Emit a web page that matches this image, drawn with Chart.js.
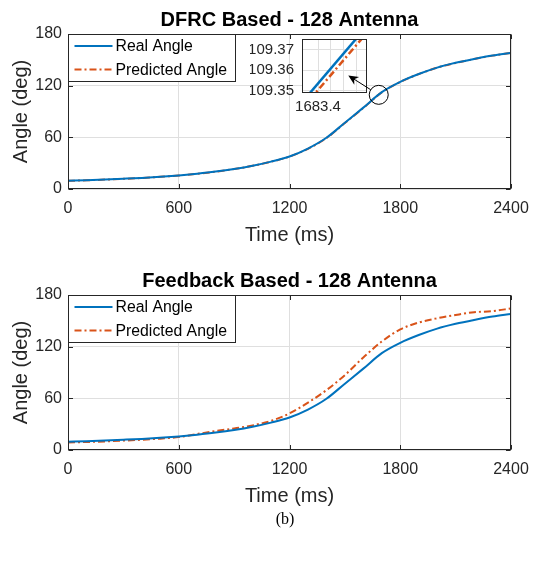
<!DOCTYPE html>
<html>
<head>
<meta charset="utf-8">
<script src="https://cdn.jsdelivr.net/npm/chart.js@4.4.1/dist/chart.umd.min.js"></script>
<style>
  body { margin: 0; background: #fff; }
  .wrap { position: relative; width: 533px; height: 563px; overflow: hidden; }
  canvas { position: absolute; left: 0; }
  #dfrcChart { top: 0; }
  #feedbackChart { top: 261px; }
  #zoomChart { left: 250px; top: 33px; z-index: 2; }
  .caption { position: absolute; left: 0; width: 570px; top: 510px; text-align: center;
             font: 16px/18px "Liberation Serif", "Times New Roman", serif; color: #000; }
</style>
</head>
<body>
<div class="wrap">
  <canvas id="dfrcChart" width="533" height="260"></canvas>
  <canvas id="feedbackChart" width="533" height="260"></canvas>
  <canvas id="zoomChart" width="140" height="90"></canvas>
  <div class="caption">(b)</div>
</div>
<script>
// Angle tracking over time
const timeMs = [0, 100, 200, 300, 400, 500, 600, 700, 800, 900, 1000, 1100, 1200,
  1300, 1400, 1500, 1600, 1700, 1800, 1900, 2000, 2100, 2200, 2300, 2400];
const realAngle = [9.6, 10.2, 11.0, 11.9, 12.9, 14.2, 15.8, 17.8, 20.2, 23.2, 27.0, 31.8, 37.8,
  47.0, 59.5, 77.0, 94.5, 112.5, 124.5, 133.5, 141.0, 146.5, 151.0, 155.0, 158.0];
const dfrcPredicted = [9.5, 10.1, 10.9, 11.8, 12.8, 14.1, 15.7, 17.7, 20.1, 23.1, 26.9, 31.6, 37.6,
  46.7, 59.1, 76.6, 94.1, 112.2, 124.3, 133.4, 140.9, 146.4, 150.9, 154.9, 158.0];
const feedbackPredicted = [8.8, 9.3, 10.0, 10.9, 11.9, 13.2, 15.0, 18.6, 22.0, 25.0, 28.6, 33.8, 42.5,
  55.0, 69.5, 87.0, 107.5, 126.0, 140.0, 148.0, 153.0, 156.8, 160.0, 161.2, 164.5];
const timeTicks = [0, 600, 1200, 1800, 2400];
const angleTicks = [0, 60, 120, 180];

// zoomed view near t = 1683.4 ms
const zoomTime = [1683.33, 1683.60];
const zoomReal = [109.3434, 109.3828];
const zoomPredicted = [109.3402, 109.3796];
const zoomTimeTicks = [1683.4, 1683.45, 1683.5, 1683.55];
const zoomTimeLabel = 1683.4;
const zoomAngleTicks = [109.35, 109.36, 109.37];
const zoomSpot = [1683.4, 109.36];      // circled point on the main curve
const arrowTip = [1683.518, 109.3575];   // where the pointer ends inside the zoom box

const FONT = "'Liberation Sans', Arial, Helvetica, sans-serif";
const INK = '#262626';
const GRID = '#dfdfdf';
const BLUE = '#0072BD';
const ORANGE = '#D95319';
const DASHDOT = [7, 3, 2, 3];

const toPoints = (xs, ys) => xs.map((x, i) => ({ x, y: ys[i] }));
const setTicks = values => scale => { scale.ticks = values.map(v => ({ value: v })); };
// fixed axis box, no extra room for end labels
const fixSize = (w, h) => scale => {
  if (w != null) scale.width = w;
  if (h != null) scale.height = h;
  scale.paddingLeft = scale.paddingRight = scale.paddingTop = scale.paddingBottom = 0;
};

// box, inward ticks, legend and labels in the MATLAB figure style
const matlabAxes = {
  id: 'matlabAxes',
  afterDraw(chart, args, o) {
    const { ctx, chartArea: a, scales: { x, y } } = chart;
    const L = Math.round(a.left) + 0.5, R = Math.round(a.right) - 0.5;
    const T = Math.round(a.top) + 0.5, B = Math.round(a.bottom) - 0.5;
    ctx.save();
    ctx.strokeStyle = INK;
    ctx.lineWidth = 1;
    ctx.beginPath();
    x.ticks.forEach(t => {
      const px = Math.round(x.getPixelForValue(t.value)) + 0.5;
      ctx.moveTo(px, B); ctx.lineTo(px, B - 4.5);
      ctx.moveTo(px, T); ctx.lineTo(px, T + 4.5);
    });
    y.ticks.forEach(t => {
      const py = Math.round(y.getPixelForValue(t.value)) + 0.5;
      ctx.moveTo(L, py); ctx.lineTo(L + 4.5, py);
      ctx.moveTo(R, py); ctx.lineTo(R - 4.5, py);
    });
    ctx.stroke();
    ctx.strokeRect(L, T, R - L, B - T);

    // legend
    const lw = 167, lh = 47;
    ctx.fillStyle = '#fff';
    ctx.fillRect(L, T, lw, lh);
    ctx.strokeStyle = INK;
    ctx.strokeRect(L, T, lw, lh);
    ctx.font = '15.8px ' + FONT;
    ctx.textBaseline = 'middle';
    ctx.textAlign = 'left';
    chart.data.datasets.forEach((ds, i) => {
      const ly = T + 11.5 + i * 23.5;
      ctx.strokeStyle = ds.borderColor;
      ctx.lineWidth = ds.borderWidth;
      ctx.setLineDash(ds.borderDash || []);
      ctx.beginPath();
      ctx.moveTo(L + 6, ly); ctx.lineTo(L + 44, ly);
      ctx.stroke();
      ctx.setLineDash([]);
      ctx.fillStyle = '#000';
      ctx.fillText(ds.label, L + 47, ly + 1);
    });

    // titles
    const cx = (a.left + a.right) / 2;
    ctx.textAlign = 'center';
    ctx.textBaseline = 'alphabetic';
    ctx.fillStyle = '#000';
    ctx.font = 'bold 20px ' + FONT;
    ctx.fillText(o.title, cx, a.top - 8);
    ctx.fillStyle = INK;
    ctx.font = '20px ' + FONT;
    ctx.fillText(o.xLabel, cx, a.bottom + 52);
    ctx.translate(27, (a.top + a.bottom) / 2);
    ctx.rotate(-Math.PI / 2);
    ctx.fillText(o.yLabel, 0, 0);
    ctx.restore();
  }
};

function makeAngleChart(id, title, predicted) {
  return new Chart(document.getElementById(id), {
    type: 'line',
    data: {
      datasets: [
        { label: 'Real Angle', data: toPoints(timeMs, realAngle),
          borderColor: BLUE, borderWidth: 2 },
        { label: 'Predicted Angle', data: toPoints(timeMs, predicted),
          borderColor: ORANGE, borderWidth: 2, borderDash: DASHDOT }
      ]
    },
    options: {
      responsive: false,
      animation: false,
      layout: { padding: { left: 0, top: 34, right: 22, bottom: 0 } },
      elements: { point: { radius: 0 }, line: { cubicInterpolationMode: 'monotone', fill: false } },
      plugins: {
        legend: { display: false },
        tooltip: { enabled: false },
        matlabAxes: { title, xLabel: 'Time (ms)', yLabel: 'Angle (deg)' }
      },
      scales: {
        x: {
          type: 'linear', min: 0, max: 2400,
          afterBuildTicks: setTicks(timeTicks),
          afterFit: fixSize(null, 71),
          grid: { color: GRID, drawTicks: false },
          border: { display: false },
          ticks: { color: INK, font: { family: FONT, size: 16 }, padding: 10, maxRotation: 0, autoSkip: false,
                   callback: v => String(v) }
        },
        y: {
          min: 0, max: 180,
          afterBuildTicks: setTicks(angleTicks),
          afterFit: fixSize(68, null),
          grid: { color: GRID, drawTicks: false },
          border: { display: false },
          ticks: { color: INK, font: { family: FONT, size: 16 }, padding: 6, callback: v => String(v) }
        }
      }
    },
    plugins: [matlabAxes]
  });
}

const dfrcChart = makeAngleChart('dfrcChart', 'DFRC Based - 128 Antenna', dfrcPredicted);
const feedbackChart = makeAngleChart('feedbackChart', 'Feedback Based - 128 Antenna', feedbackPredicted);

// zoom box with circle and pointer back to the main curve
const zoomCanvas = document.getElementById('zoomChart');
const zoomMarks = {
  id: 'zoomMarks',
  beforeDraw(chart) {
    const { ctx, chartArea: a } = chart;
    ctx.save();
    ctx.fillStyle = '#fff';
    ctx.fillRect(a.left, a.top, a.width, a.height);
    ctx.restore();
  },
  afterDraw(chart) {
    const { ctx, chartArea: a, scales: { x, y } } = chart;
    const ox = zoomCanvas.offsetLeft, oy = zoomCanvas.offsetTop;
    ctx.save();
    ctx.strokeStyle = INK;
    ctx.lineWidth = 1;
    ctx.strokeRect(Math.round(a.left) + 0.5, Math.round(a.top) + 0.5,
      Math.round(a.width) - 1, Math.round(a.height) - 1);

    const cx = dfrcChart.scales.x.getPixelForValue(zoomSpot[0]) - ox;
    const cy = dfrcChart.scales.y.getPixelForValue(zoomSpot[1]) - oy;
    const r = 9.5;
    ctx.strokeStyle = '#000';
    ctx.beginPath();
    ctx.arc(cx, cy, r, 0, Math.PI * 2);
    ctx.stroke();

    const tx = x.getPixelForValue(arrowTip[0]);
    const ty = y.getPixelForValue(arrowTip[1]);
    const d = Math.hypot(tx - cx, ty - cy);
    const ux = (tx - cx) / d, uy = (ty - cy) / d;
    const sx = cx + ux * r, sy = cy + uy * r;
    ctx.beginPath();
    ctx.moveTo(sx, sy);
    ctx.lineTo(tx - ux * 6, ty - uy * 6);
    ctx.stroke();
    const nx = -uy, ny = ux;
    ctx.fillStyle = '#000';
    ctx.beginPath();
    ctx.moveTo(tx, ty);
    ctx.lineTo(tx - ux * 10 + nx * 4.5, ty - uy * 10 + ny * 4.5);
    ctx.lineTo(tx - ux * 7, ty - uy * 7);
    ctx.lineTo(tx - ux * 10 - nx * 4.5, ty - uy * 10 - ny * 4.5);
    ctx.closePath();
    ctx.fill();
    ctx.restore();
  }
};

new Chart(zoomCanvas, {
  type: 'line',
  data: {
    datasets: [
      { label: 'Real Angle', data: toPoints(zoomTime, zoomReal),
        borderColor: BLUE, borderWidth: 2.5, clip: 0 },
      { label: 'Predicted Angle', data: toPoints(zoomTime, zoomPredicted),
        borderColor: ORANGE, borderWidth: 2.5, borderDash: DASHDOT, clip: 0 }
    ]
  },
  options: {
    responsive: false,
    animation: false,
    layout: { padding: { left: 0, top: 6, right: 23, bottom: 0 } },
    elements: { point: { radius: 0 } },
    plugins: { legend: { display: false }, tooltip: { enabled: false } },
    scales: {
      x: {
        type: 'linear', min: 1683.3375, max: 1683.591,
        afterBuildTicks: setTicks(zoomTimeTicks),
        afterFit: fixSize(null, 30),
        grid: { color: GRID, drawTicks: false },
        border: { display: false },
        ticks: { color: INK, font: { family: FONT, size: 15 }, padding: 5, maxRotation: 0, autoSkip: false,
                 callback: v => (Math.abs(v - zoomTimeLabel) < 1e-6 ? String(zoomTimeLabel) : '') }
      },
      y: {
        min: 109.349, max: 109.3752,
        afterBuildTicks: setTicks(zoomAngleTicks),
        afterFit: fixSize(52, null),
        grid: { color: GRID, drawTicks: false },
        border: { display: false },
        ticks: { color: INK, font: { family: FONT, size: 15 }, padding: 8,
                 callback: v => v.toFixed(2) }
      }
    }
  },
  plugins: [zoomMarks]
});
</script>
</body>
</html>
